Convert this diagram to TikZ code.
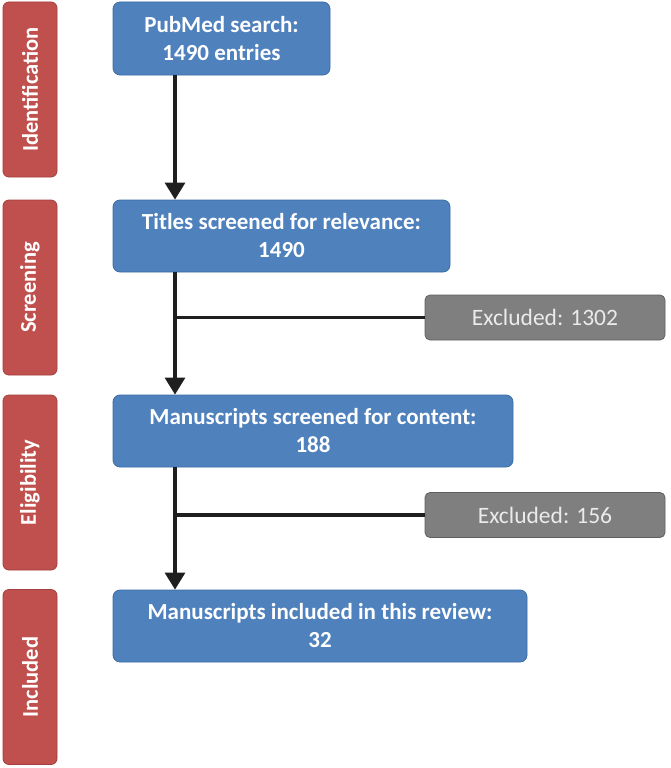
\documentclass[tikz,border=0pt]{standalone}
\usepackage{fontspec}
\setmainfont{Carlito}
\usetikzlibrary{arrows.meta}
\definecolor{bluebox}{HTML}{4F81BD}
\definecolor{blueedge}{HTML}{3B6CA5}
\definecolor{redbox}{HTML}{C0504D}
\definecolor{rededge}{HTML}{A33E3B}
\definecolor{greybox}{HTML}{7F7F7F}
\definecolor{greyedge}{HTML}{5F5F5F}
\tikzset{
  stagebox/.style={draw=blueedge, fill=bluebox, line width=0.8pt, rounded corners=7pt,
    text=white, font=\fontsize{23}{28}\selectfont\bfseries, align=center, inner sep=0pt},
  phasebox/.style={draw=rededge, fill=redbox, line width=0.8pt, rounded corners=6pt,
    minimum width=54pt, minimum height=175pt, text=white,
    font=\fontsize{22.5}{26}\selectfont\bfseries, inner sep=0pt},
  exclbox/.style={draw=greyedge, fill=greybox, line width=0.8pt, rounded corners=5pt,
    minimum width=240pt, minimum height=45pt, text=white!92!black,
    font=\fontsize{23.5}{26}\selectfont, inner sep=0pt},
  flow/.style={line width=3.2pt, draw=black!88, -{Triangle[width=20pt,length=17pt]}},
  branch/.style={line width=3.2pt, draw=black!88}
}
\begin{document}
\begin{tikzpicture}[x=1pt, y=-1pt]
\useasboundingbox (0,0) rectangle (670,768);
% phase labels
\node[phasebox] (ph1) at (30,89.5) {\rotatebox{90}{Identification}};
\node[phasebox] (ph2) at (30,287.5) {\rotatebox{90}{Screening}};
\node[phasebox] (ph3) at (30,482.5) {\rotatebox{90}{Eligibility}};
\node[phasebox] (ph4) at (30,677) {\rotatebox{90}{Included}};
% main stages
\node[stagebox, minimum width=217pt, minimum height=73pt] (pub) at (221.5,38.5) {PubMed search:\\1490 entries};
\node[stagebox, minimum width=337pt, minimum height=72pt] (tit) at (281.5,236) {Titles screened for relevance:\\1490};
\node[stagebox, minimum width=400pt, minimum height=72pt] (man) at (313,431) {Manuscripts screened for content:\\188};
\node[stagebox, minimum width=414pt, minimum height=72pt] (inc) at (320,626) {Manuscripts included in this review:\\32};
% excluded
\node[exclbox] (ex1) at (545,317.5) {Excluded: 1302};
\node[exclbox] (ex2) at (545,515) {Excluded: 156};
% spine
\coordinate (spine) at (175,0);
\draw[flow] (pub.south -| spine) -- (tit.north -| spine);
\draw[flow] (tit.south -| spine) -- (man.north -| spine);
\draw[flow] (man.south -| spine) -- (inc.north -| spine);
\draw[branch] (ex1.west -| spine) -- (ex1.west);
\draw[branch] (ex2.west -| spine) -- (ex2.west);
\end{tikzpicture}
\end{document}
